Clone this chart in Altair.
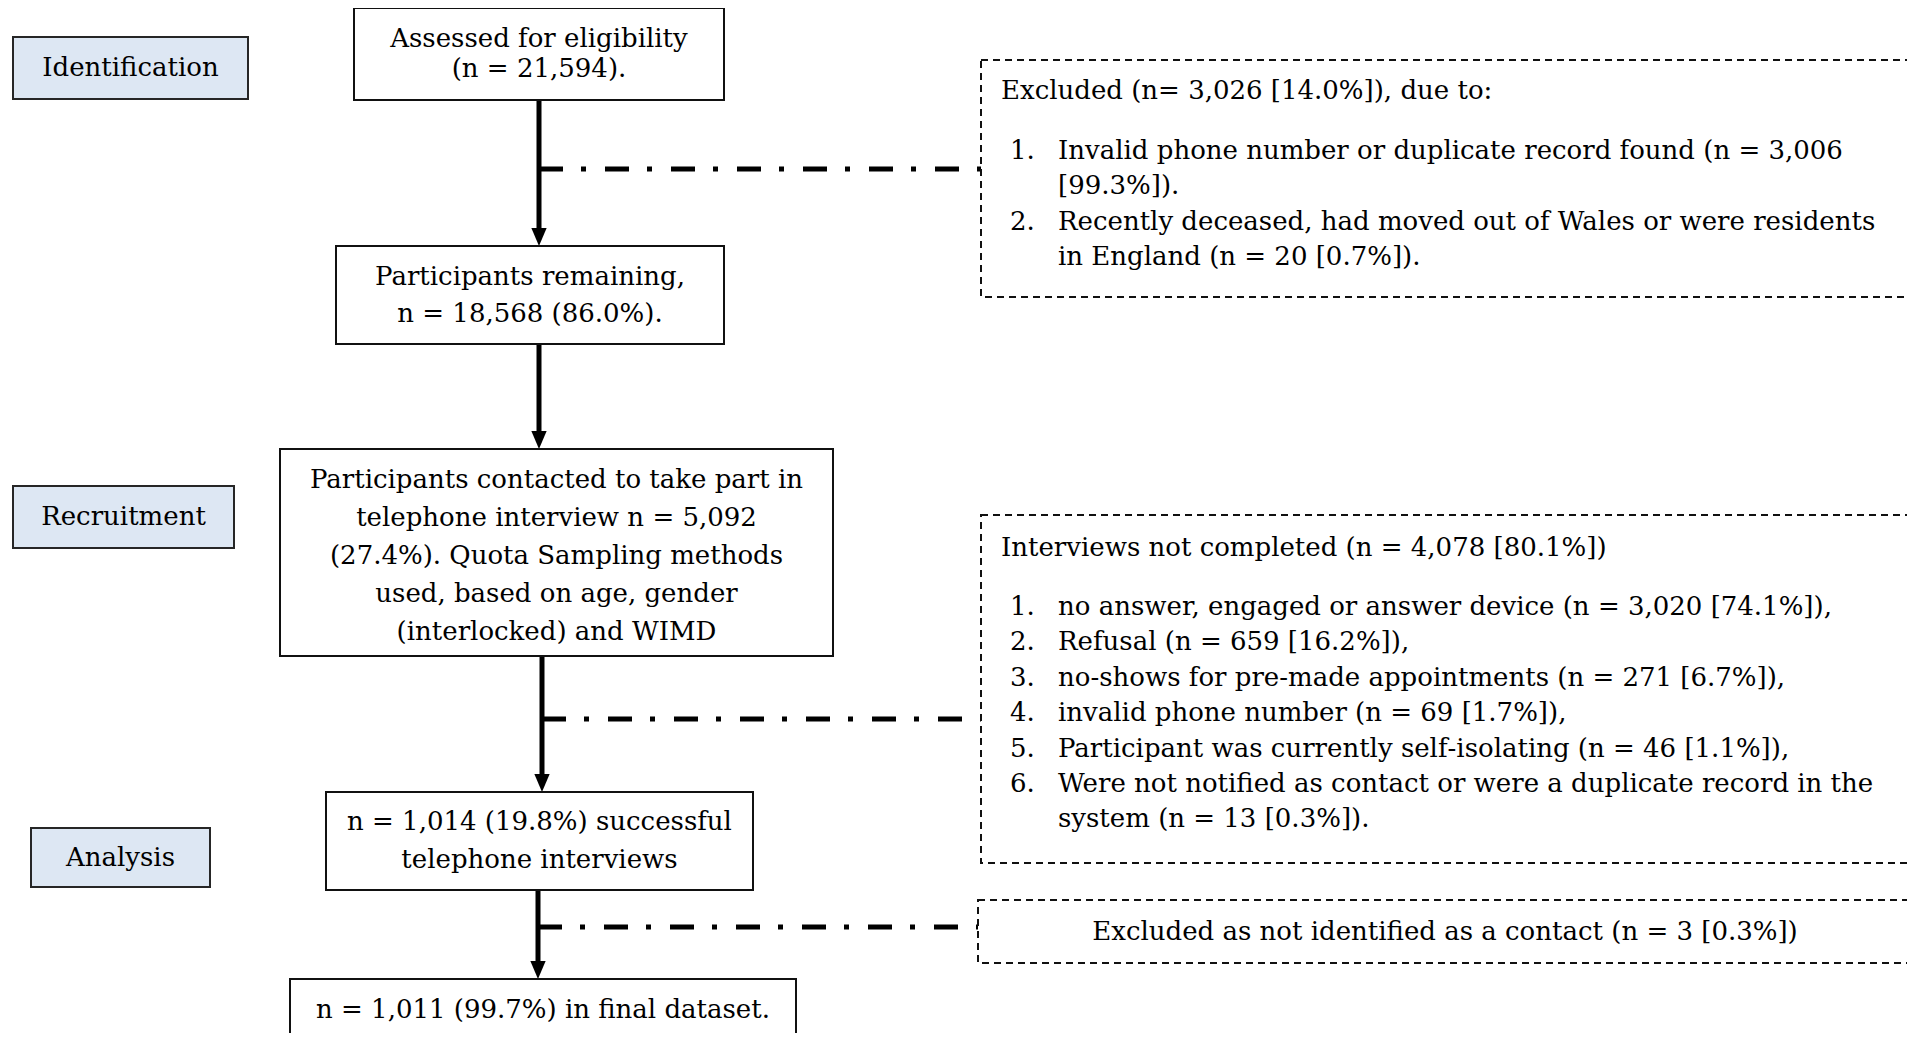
import altair as alt
import pandas as pd

# ---------------- text content ----------------
STAGE_LABELS = ["Identification", "Recruitment", "Analysis"]

FLOW_TEXT = [
    ["Assessed for eligibility", "(n = 21,594)."],
    ["Participants remaining,", "n = 18,568 (86.0%)."],
    ["Participants contacted to take part in",
     "telephone interview n = 5,092",
     "(27.4%). Quota Sampling methods",
     "used, based on age, gender",
     "(interlocked) and WIMD"],
    ["n = 1,014 (19.8%) successful", "telephone interviews"],
    ["n = 1,011 (99.7%) in final dataset."],
]

EXCL1_HEAD = "Excluded (n= 3,026 [14.0%]), due to:"
EXCL1_ITEMS = [
    ["Invalid phone number or duplicate record found (n = 3,006", "[99.3%])."],
    ["Recently deceased, had moved out of Wales or were residents", "in England (n = 20 [0.7%])."],
]
EXCL2_HEAD = "Interviews not completed (n = 4,078 [80.1%])"
EXCL2_ITEMS = [
    ["no answer, engaged or answer device (n = 3,020 [74.1%]),"],
    ["Refusal (n = 659 [16.2%]),"],
    ["no\u2011shows for pre\u2011made appointments (n = 271 [6.7%]),"],
    ["invalid phone number (n = 69 [1.7%]),"],
    ["Participant was currently self\u2011isolating (n = 46 [1.1%]),"],
    ["Were not notified as contact or were a duplicate record in the", "system (n = 13 [0.3%])."],
]
EXCL3_TEXT = "Excluded as not identified as a contact (n = 3 [0.3%])"

# ---------------- layout (pixel positions of the diagram) ----------------
STAGE_BOX = [(13, 248, 37, 99), (13, 234, 486, 548), (31, 210, 828, 887)]
FLOW_BOX = [(354, 724, 8, 100), (336, 724, 246, 344), (280, 833, 449, 656),
            (326, 753, 792, 890), (290, 796, 979, 1080)]
FLOW_TEXT_CY = [54, 295, 556, 841, 1010]
FLOW_GAP = [30, 37, 38, 38, 38]
DASH_BOX = [(981, 1912, 60, 297), (981, 1912, 515, 863), (978, 1912, 900, 963)]
HEAD_XY = [(1001, 91), (1001, 548)]
ITEM_NUM_X, ITEM_TXT_X = 1010, 1058
EXCL1_Y0, EXCL2_Y0, ITEM_GAP = 151, 607, 35.4
EXCL3_XY = (1445, 932)
ARROWS = [(539, 100, 246), (539, 344, 449), (542, 656, 792), (538, 890, 979)]
BRANCH = [(539, 981, 169), (542, 981, 719), (538, 978, 927)]
HEAD_H = 9

FONT = "DejaVu Serif"
FS = 26

# ---------------- build tables ----------------
stage_df = pd.DataFrame([dict(x1=b[0], x2=b[1], y1=b[2], y2=b[3]) for b in STAGE_BOX])
flow_df = pd.DataFrame([dict(x1=b[0], x2=b[1], y1=b[2], y2=b[3]) for b in FLOW_BOX])
dash_df = pd.DataFrame([dict(x1=b[0], x2=b[1], y1=b[2], y2=b[3]) for b in DASH_BOX])

center_rows = []
for lab, b in zip(STAGE_LABELS, STAGE_BOX):
    center_rows.append(dict(x=(b[0] + b[1]) / 2, y=(b[2] + b[3]) / 2, t=lab))
for lines, b, cy, gap in zip(FLOW_TEXT, FLOW_BOX, FLOW_TEXT_CY, FLOW_GAP):
    n = len(lines)
    for i, ln in enumerate(lines):
        center_rows.append(dict(x=(b[0] + b[1]) / 2, y=cy + (i - (n - 1) / 2) * gap, t=ln))
center_rows.append(dict(x=EXCL3_XY[0], y=EXCL3_XY[1], t=EXCL3_TEXT))
center_df = pd.DataFrame(center_rows)

left_rows = []
for head, (hx, hy) in zip([EXCL1_HEAD, EXCL2_HEAD], HEAD_XY):
    left_rows.append(dict(x=hx, y=hy, t=head))
for items, y0 in [(EXCL1_ITEMS, EXCL1_Y0), (EXCL2_ITEMS, EXCL2_Y0)]:
    k = 0
    for num, item in enumerate(items, start=1):
        for j, ln in enumerate(item):
            y = y0 + k * ITEM_GAP
            if j == 0:
                left_rows.append(dict(x=ITEM_NUM_X, y=y, t=f"{num}."))
            left_rows.append(dict(x=ITEM_TXT_X, y=y, t=ln))
            k += 1
left_df = pd.DataFrame(left_rows)

arrow_df = pd.DataFrame([dict(x=a[0], y1=a[1], y2=a[2] - HEAD_H) for a in ARROWS])
head_df = pd.DataFrame([dict(x=a[0], y=a[2] - HEAD_H) for a in ARROWS])
branch_df = pd.DataFrame([dict(x1=b[0], x2=b[1], y=b[2]) for b in BRANCH])

W, H = 1899, 1025
xs = alt.Scale(domain=[8, 8 + W], nice=False, zero=False)
ys = alt.Scale(domain=[8 + H, 8], nice=False, zero=False)
X = lambda f: alt.X(f, type="quantitative", scale=xs, axis=None)
Y = lambda f: alt.Y(f, type="quantitative", scale=ys, axis=None)

stage = alt.Chart(stage_df).mark_rect(fill="#dde7f3", stroke="#262626", strokeWidth=2).encode(
    x=X("x1"), x2="x2", y=Y("y1"), y2="y2")
flow = alt.Chart(flow_df).mark_rect(fill="white", stroke="#111111", strokeWidth=2).encode(
    x=X("x1"), x2="x2", y=Y("y1"), y2="y2")
dash = alt.Chart(dash_df).mark_rect(fill="white", stroke="#111111", strokeWidth=2,
                                    strokeDash=[7, 5]).encode(
    x=X("x1"), x2="x2", y=Y("y1"), y2="y2")
branch = alt.Chart(branch_df).mark_rule(color="black", strokeWidth=5,
                                        strokeDash=[24, 18, 5, 19]).encode(
    x=X("x1"), x2="x2", y=Y("y"))
arrows = alt.Chart(arrow_df).mark_rule(color="black", strokeWidth=5).encode(
    x=X("x"), y=Y("y1"), y2="y2")
heads = alt.Chart(head_df).mark_point(shape="M-0.85,-1L0.85,-1L0,1Z", size=324, filled=True,
                                      color="black", opacity=1).encode(
    x=X("x"), y=Y("y"))
ctext = alt.Chart(center_df).mark_text(font=FONT, fontSize=FS, align="center",
                                       baseline="middle", color="black").encode(
    x=X("x"), y=Y("y"), text="t:N")
ltext = alt.Chart(left_df).mark_text(font=FONT, fontSize=FS, align="left",
                                     baseline="middle", color="black").encode(
    x=X("x"), y=Y("y"), text="t:N")

chart = alt.layer(branch, arrows, heads, stage, flow, dash, ctext, ltext).properties(
    width=W, height=H, padding=0,
    autosize=alt.AutoSizeParams(type="none"),
).configure_view(strokeWidth=0)

chart.save("out.html", embed_options={"renderer": "svg", "actions": False})
